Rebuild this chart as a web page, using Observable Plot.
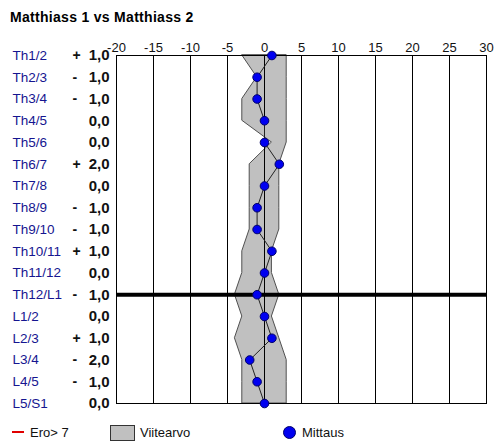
<!DOCTYPE html>
<html>
<head>
<meta charset="utf-8">
<script src="https://cdn.jsdelivr.net/npm/d3@7"></script>
<script src="https://cdn.jsdelivr.net/npm/@observablehq/plot@0.6"></script>
<style>
  body { margin: 0; background: white; width: 496px; font-family: "Liberation Sans", Arial, sans-serif; }
  #title { position: relative; height: 30px; }
  #title span { position: absolute; left: 10px; top: 9px; font-size: 14px; font-weight: bold; letter-spacing: 0.3px; line-height: 16px; color: #000; white-space: nowrap; }
  #legend { position: relative; height: 31px; font-size: 13px; color: #111; }
  #legend .t { position: absolute; top: 15px; line-height: 15px; white-space: nowrap; }
  #legend .red { position: absolute; left: 12px; top: 21px; width: 12px; height: 2px; background: #e00000; }
  #legend .box { position: absolute; left: 110px; top: 15px; width: 23px; height: 14px; background: #c0c0c0; border: 1px solid #333; }
  #legend .dot { position: absolute; left: 283px; top: 16px; width: 11px; height: 11px; border-radius: 50%; background: #0000f0; border: 1px solid #00006a; }
</style>
</head>
<body>
<div id="title"><span>Matthiass 1 vs Matthiass 2</span></div>
<div id="chart"></div>
<div id="legend">
  <div class="red"></div><span class="t" style="left:30px">Ero&gt; 7</span>
  <div class="box"></div><span class="t" style="left:140px">Viitearvo</span>
  <div class="dot"></div><span class="t" style="left:302px">Mittaus</span>
</div>
<script>
const rows = ["Th1/2","Th2/3","Th3/4","Th4/5","Th5/6","Th6/7","Th7/8","Th8/9","Th9/10","Th10/11","Th11/12","Th12/L1","L1/2","L2/3","L3/4","L4/5","L5/S1"];
const values = [1,-1,-1,0,0,2,0,-1,-1,1,0,-1,0,1,-2,-1,0];
const refLow = [-3,-1,-3,-3,1,-2,-2,-2,-2,-3,-3,-4,-3,-4,-3,-3,-3];
const refHigh = [3,3,3,3,3,2,2,2,2,1,1,2,1,2,3,3,3];
const xTicks = [-20,-15,-10,-5,0,5,10,15,20,25,30];
const boundaryRow = "Th12/L1";

const data = rows.map((row, i) => ({
  row,
  value: values[i],
  lo: refLow[i],
  hi: refHigh[i],
  sign: values[i] > 0 ? "+" : values[i] < 0 ? "-" : "",
  label: Math.abs(values[i]).toFixed(1).replace(".", ",")
}));

const chart = Plot.plot({
  width: 496,
  height: 380,
  marginTop: 25,
  marginBottom: 7,
  marginLeft: 116,
  marginRight: 10,
  style: { fontFamily: "Liberation Sans, Arial, sans-serif", fontSize: "13px", background: "white", color: "#111", overflow: "visible" },
  x: { domain: [-20, 30], axis: "top", ticks: xTicks, tickSize: 0, tickPadding: 4, tickFormat: d => String(d), label: null },
  y: { type: "point", domain: rows, padding: 0, round: false, axis: null },
  marks: [
    Plot.areaX(data, { y: "row", x1: "lo", x2: "hi", fill: "#c0c0c0", stroke: "#505050", strokeWidth: 1 }),
    Plot.ruleX(xTicks, { stroke: "black", strokeWidth: 1 }),
    Plot.frame({ stroke: "black" }),
    Plot.ruleY([boundaryRow], { stroke: "black", strokeWidth: 4 }),
    Plot.lineX(data, { x: "value", y: "row", stroke: "#222", strokeWidth: 1 }),
    Plot.dot(data, { x: "value", y: "row", r: 4.3, fill: "#0000f0", stroke: "#00006a", strokeWidth: 1 }),
    Plot.text(data, { y: "row", text: "row", frameAnchor: "left", textAnchor: "start", dx: -104, fill: "#151590", fontSize: 13.5 }),
    Plot.text(data, { y: "row", text: "sign", frameAnchor: "left", textAnchor: "start", dx: -44, fill: "#111", fontSize: 14, fontWeight: "bold" }),
    Plot.text(data, { y: "row", text: "label", frameAnchor: "left", textAnchor: "end", dx: -7, fill: "#111", fontSize: 15, fontWeight: "bold" })
  ]
});
document.getElementById("chart").appendChild(chart);
</script>
</body>
</html>
